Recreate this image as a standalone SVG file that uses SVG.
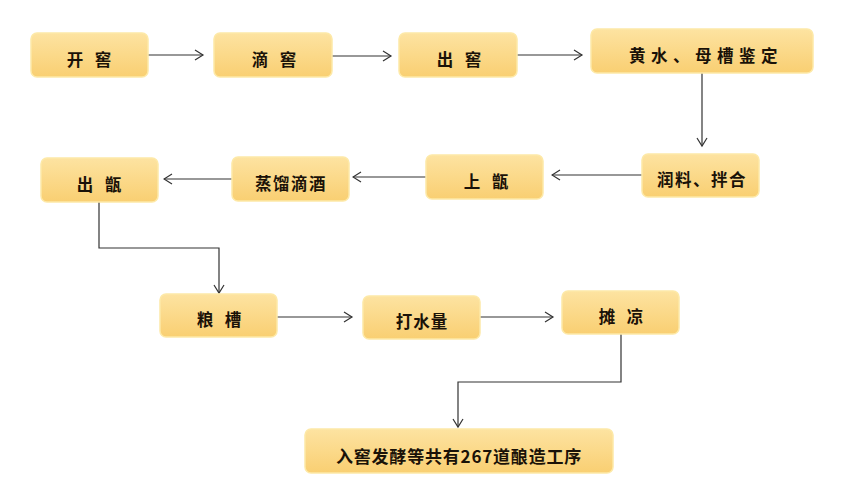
<svg xmlns="http://www.w3.org/2000/svg" width="844" height="500" viewBox="0 0 844 500">
<defs>
<linearGradient id="g" x1="0" y1="0" x2="0" y2="1">
<stop offset="0" stop-color="#fde3a1"/>
<stop offset="1" stop-color="#f9cf72"/>
</linearGradient>
<marker id="arr" markerUnits="userSpaceOnUse" markerWidth="12" markerHeight="12" viewBox="-1 -6 11 12" refX="9" refY="0" orient="auto">
<path d="M1,-5 L9,0 L1,5" fill="none" stroke="#333" stroke-width="1.2"/>
</marker>
<style>
.box{fill:url(#g);stroke:#fde9a8;stroke-width:1.5}
.t{font-family:"Noto Sans CJK SC","Noto Sans CJK TC",sans-serif;font-weight:700;font-size:16.5px;fill:#1a1208;text-anchor:middle;dominant-baseline:central}
.s2{letter-spacing:4px}
.big{font-size:17px;letter-spacing:0.8px}
.c{fill:none;stroke:#333;stroke-width:1.2;marker-end:url(#arr)}
</style>
</defs>
<rect width="844" height="500" fill="#ffffff"/>
<g id="connectors">
<path class="c" d="M148,55 H203"/>
<path class="c" d="M332,56 H391"/>
<path class="c" d="M517,55 H582"/>
<path class="c" d="M702,73 V146"/>
<path class="c" d="M642,175 H552"/>
<path class="c" d="M426,177 H353"/>
<path class="c" d="M232,179 H164"/>
<path class="c" d="M99,202 V248 H219 V293"/>
<path class="c" d="M277,317 H352"/>
<path class="c" d="M480,317 H553"/>
<path class="c" d="M621,334 V382 H458 V427"/>
</g>
<g id="n1"><rect class="box" x="31" y="33" width="117" height="44" rx="6"/><text class="t s2" x="91" y="59">开 窖</text></g>
<g id="n2"><rect class="box" x="214" y="33" width="118" height="44" rx="6"/><text class="t s2" x="276" y="59">滴 窖</text></g>
<g id="n3"><rect class="box" x="399" y="33" width="118" height="44" rx="6"/><text class="t s2" x="461" y="59">出 窖</text></g>
<g id="n4"><rect class="box" x="591" y="29" width="222" height="44" rx="6"/><text class="t" x="706" y="55" style="letter-spacing:5.5px">黄水、母槽鉴定</text></g>
<g id="n5"><rect class="box" x="642" y="154" width="117" height="43" rx="6"/><text class="t" x="702" y="179" style="letter-spacing:1.5px">润料、拌合</text></g>
<g id="n6"><rect class="box" x="426" y="155" width="117" height="44" rx="6"/><text class="t s2" x="488" y="181">上 甑</text></g>
<g id="n7"><rect class="box" x="232" y="157" width="117" height="44" rx="6"/><text class="t" x="291" y="183" style="letter-spacing:1.5px">蒸馏滴酒</text></g>
<g id="n8"><rect class="box" x="41" y="158" width="117" height="44" rx="6"/><text class="t s2" x="101" y="184">出 甑</text></g>
<g id="n9"><rect class="box" x="160" y="294" width="117" height="43" rx="6"/><text class="t s2" x="221" y="319">粮 槽</text></g>
<g id="n10"><rect class="box" x="363" y="296" width="117" height="43" rx="6"/><text class="t" x="422" y="321" style="letter-spacing:1px">打水量</text></g>
<g id="n11"><rect class="box" x="562" y="291" width="117" height="43" rx="6"/><text class="t s2" x="623" y="316">摊 凉</text></g>
<g id="n12"><rect class="box" x="305" y="429" width="308" height="44" rx="6"/><text class="t big" x="459" y="455">入窖发酵等共有267道酿造工序</text></g>
</svg>
